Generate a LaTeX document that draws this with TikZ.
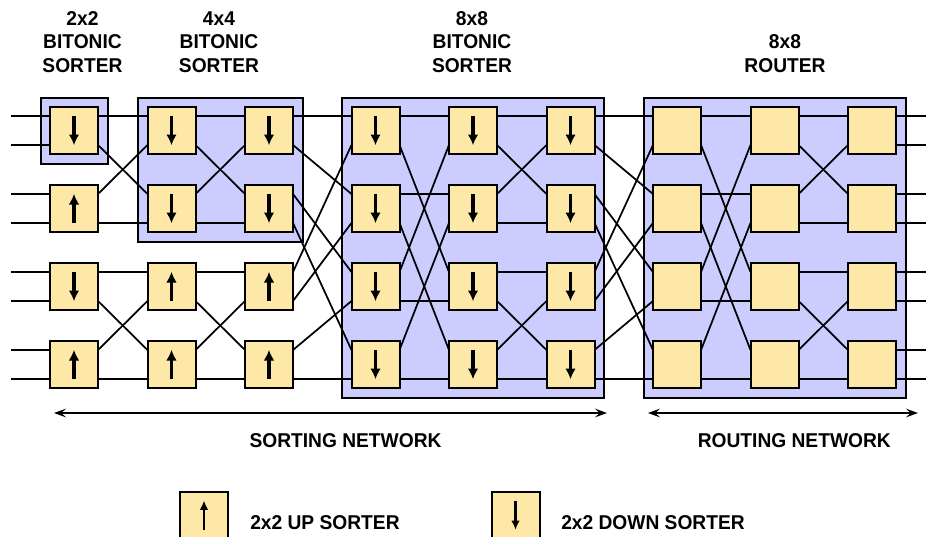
\documentclass[tikz,border=0pt]{standalone}
\usepackage{fontspec}
\setmainfont{Liberation Sans}[FakeStretch=0.96]
\usetikzlibrary{arrows.meta,calc,fit}
\pgfdeclarelayer{bg}
\pgfdeclarelayer{wirelayer}
\pgfsetlayers{bg,wirelayer,main}
\definecolor{boxfill}{RGB}{253,232,168}
\definecolor{grpfill}{RGB}{204,204,255}
\begin{document}
\begin{tikzpicture}[x=0.75pt,y=-0.75pt,
  box/.style={draw=black, line width=1.5pt, fill=boxfill, minimum width=36pt,
    minimum height=35.25pt, inner sep=0pt, outer sep=0pt},
  arr/.style={line width=2.8pt, -{Latex[length=8pt,width=8pt]}},
  larr/.style={line width=1.6pt, -{Latex[length=7pt,width=6.5pt]}},
  sortdown/.style={box, path picture={\draw[#1] ([yshift=11pt]path picture bounding box.center) -- ([yshift=-11pt]path picture bounding box.center);}},
  sortdown/.default=arr,
  sortup/.style={box, path picture={\draw[#1] ([yshift=-11pt]path picture bounding box.center) -- ([yshift=11pt]path picture bounding box.center);}},
  sortup/.default=arr,
  routebox/.style={box},
  grp/.style={draw=black, line width=1.5pt, fill=grpfill, inner sep=7.125pt},
  wire/.style={line width=1.3pt},
  span/.style={line width=1.1pt, {Stealth[length=9pt,width=6.5pt,inset=3.5pt]}-{Stealth[length=9pt,width=6.5pt,inset=3.5pt]}},
  lbl/.style={font=\bfseries\fontsize{15pt}{18pt}\selectfont, inner sep=0pt, anchor=base}
]
\path[use as bounding box] (0,0) rectangle (928,536);
\clip (0,0) rectangle (928,536);

% boxes
\foreach \c/\x/\ta/\tb/\tc/\td in {
  1/74/sortdown/sortup/sortdown/sortup,
  2/171.5/sortdown/sortdown/sortup/sortup,
  3/269/sortdown/sortdown/sortup/sortup,
  4/375.5/sortdown/sortdown/sortdown/sortdown,
  5/473/sortdown/sortdown/sortdown/sortdown,
  6/570.5/sortdown/sortdown/sortdown/sortdown,
  7/677/routebox/routebox/routebox/routebox,
  8/774.5/routebox/routebox/routebox/routebox,
  9/872/routebox/routebox/routebox/routebox}{
  \node[\ta] (b\c-0) at (\x,130.5) {};
  \node[\tb] (b\c-1) at (\x,208.5) {};
  \node[\tc] (b\c-2) at (\x,286.5) {};
  \node[\td] (b\c-3) at (\x,364.5) {};
}

% ports
\foreach \c in {1,...,9}{
  \foreach \r [evaluate=\r as \na using int(2*\r), evaluate=\r as \nb using int(2*\r+1)] in {0,...,3}{
    \coordinate (i\c-\na) at ($(b\c-\r.west)+(0,-14.5)$);
    \coordinate (i\c-\nb) at ($(b\c-\r.west)+(0,14.5)$);
    \coordinate (o\c-\na) at ($(b\c-\r.east)+(0,-14.5)$);
    \coordinate (o\c-\nb) at ($(b\c-\r.east)+(0,14.5)$);
  }
}

% groups
\begin{pgfonlayer}{bg}
  \node[grp, fit=(b1-0)] (g2) {};
  \node[grp, fit=(b2-0)(b3-1)] (g4) {};
  \node[grp, fit=(b4-0)(b6-3)] (g8) {};
  \node[grp, fit=(b7-0)(b9-3)] (gr) {};
\end{pgfonlayer}

% wires
\begin{pgfonlayer}{wirelayer}
  \coordinate (lft) at (11,0);
  \coordinate (rgt) at (926,0);
  \foreach \n in {0,...,7}{
    \draw[wire] (i1-\n -| lft) -- (i1-\n);
    \draw[wire] (o9-\n) -- (o9-\n -| rgt);
  }
  \foreach \c/\d in {1/2,2/3,5/6,8/9}
    \foreach \a/\b in {0/0,1/2,2/1,3/3,4/4,5/6,6/5,7/7}
      \draw[wire] (o\c-\a) -- (i\d-\b);
  \foreach \c/\d in {3/4,6/7}
    \foreach \a/\b in {0/0,1/2,2/4,3/6,4/1,5/3,6/5,7/7}
      \draw[wire] (o\c-\a) -- (i\d-\b);
  \foreach \c/\d in {4/5,7/8}
    \foreach \a/\b in {0/0,1/4,2/2,3/6,4/1,5/5,6/3,7/7}
      \draw[wire] (o\c-\a) -- (i\d-\b);
\end{pgfonlayer}

% titles
\node[lbl] (t2a) at (82.5,25.5) {2x2};
\node[lbl] (t2b) at (82.5,48.7) {BITONIC};
\node[lbl] (t2c) at (82.5,72) {SORTER};
\node[lbl] (t4a) at (219,25.5) {4x4};
\node[lbl] (t4b) at (219,48.7) {BITONIC};
\node[lbl] (t4c) at (219,72) {SORTER};
\node[lbl] (t8a) at (472,25.5) {8x8};
\node[lbl] (t8b) at (472,48.7) {BITONIC};
\node[lbl] (t8c) at (472,72) {SORTER};
\node[lbl] (tra) at (785,48.7) {8x8};
\node[lbl] (trb) at (785,72) {ROUTER};

% spans
\coordinate (sa) at (54,413);
\coordinate (sb) at (607,413);
\coordinate (ra) at (648,413);
\coordinate (rb) at (918,413);
\draw[span] (sa) -- (sb);
\draw[span] (ra) -- (rb);
\node[lbl] (sn) at (345.5,447.3) {SORTING NETWORK};
\node[lbl] (rn) at (794.3,447.3) {ROUTING NETWORK};

% legend
\node[sortup=larr] (lu) at (204,515.2) {};
\node[lbl, anchor=base west] (lut) at (250,529.3) {2x2 UP SORTER};
\node[sortdown=larr] (ld) at (515.5,515.2) {};
\node[lbl, anchor=base west] (ldt) at (561,529.3) {2x2 DOWN SORTER};
\end{tikzpicture}
\end{document}
